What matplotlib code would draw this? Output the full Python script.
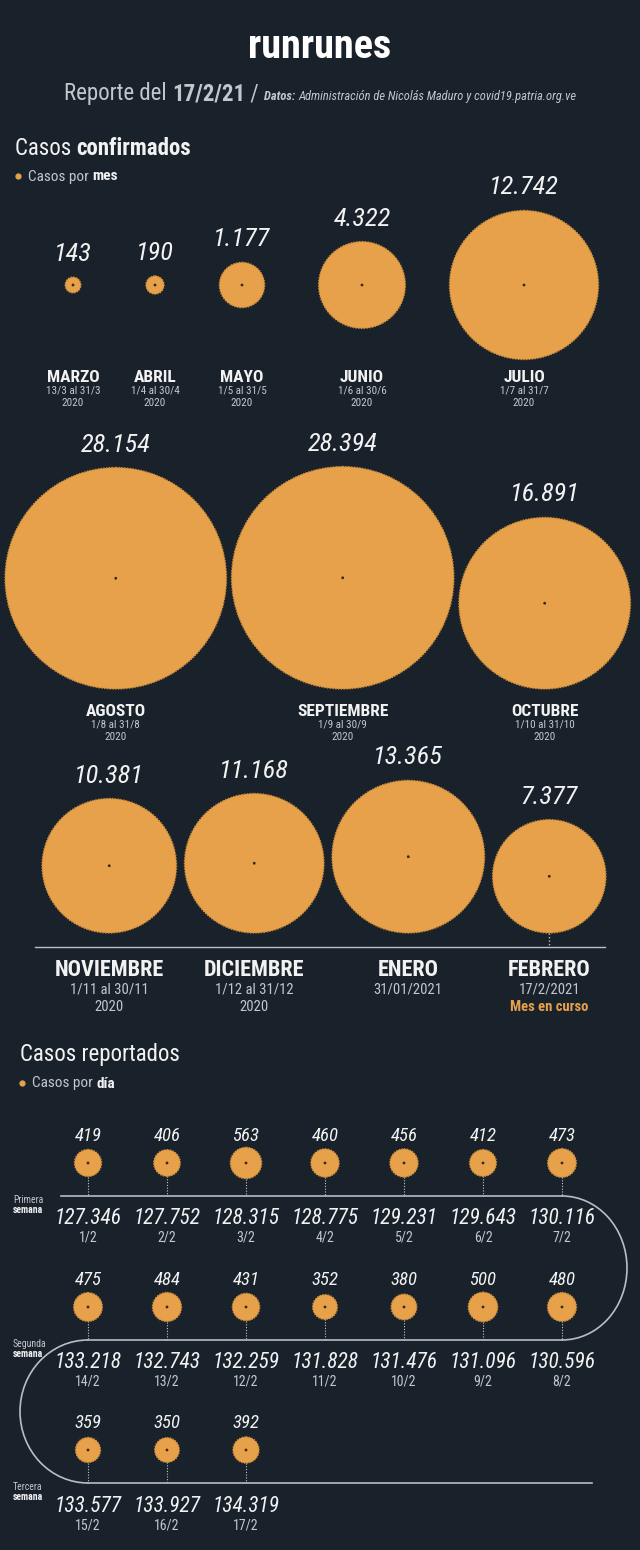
import matplotlib
matplotlib.use('Agg')
import matplotlib.pyplot as plt
from matplotlib import font_manager
from matplotlib.patches import Circle, Arc

# ---- datos: casos confirmados por mes ----
meses_1 = ['MARZO', 'ABRIL', 'MAYO', 'JUNIO', 'JULIO']
rangos_1 = ['13/3 al 31/3', '1/4 al 30/4', '1/5 al 31/5', '1/6 al 30/6', '1/7 al 31/7']
casos_1 = [143, 190, 1177, 4322, 12742]

meses_2 = ['AGOSTO', 'SEPTIEMBRE', 'OCTUBRE']
rangos_2 = ['1/8 al 31/8', '1/9 al 30/9', '1/10 al 31/10']
casos_2 = [28154, 28394, 16891]

meses_3 = ['NOVIEMBRE', 'DICIEMBRE', 'ENERO', 'FEBRERO']
rangos_3 = ['1/11 al 30/11', '1/12 al 31/12', '31/01/2021', '17/2/2021']
anios_3 = ['2020', '2020', '', 'Mes en curso']
casos_3 = [10381, 11168, 13365, 7377]

# ---- datos: casos reportados por dia (febrero) ----
semanas = ['Primera', 'Segunda', 'Tercera']
dias_1 = ['1/2', '2/2', '3/2', '4/2', '5/2', '6/2', '7/2']
diarios_1 = [419, 406, 563, 460, 456, 412, 473]
acum_1 = [127346, 127752, 128315, 128775, 129231, 129643, 130116]
dias_2 = ['14/2', '13/2', '12/2', '11/2', '10/2', '9/2', '8/2']
diarios_2 = [475, 484, 431, 352, 380, 500, 480]
acum_2 = [133218, 132743, 132259, 131828, 131476, 131096, 130596]
dias_3 = ['15/2', '16/2', '17/2']
diarios_3 = [359, 350, 392]
acum_3 = [133577, 133927, 134319]

# estilos
BG = '#19222b'
NAR = '#e6a14a'
BLANCO = '#f2f2f2'
GRIS = '#c3c7cc'
LINEA = '#b9bec4'
K = 0.66  # radio = K * sqrt(casos)

nombres = {f.name for f in font_manager.fontManager.ttflist}
COND = 'Roboto Condensed' if 'Roboto Condensed' in nombres else 'Roboto'
plt.rcParams['font.family'] = [COND, 'DejaVu Sans']


def fmt(v):
    return f'{v:,}'.replace(',', '.')


def radio(v):
    return K * v ** 0.5


fig = plt.figure(figsize=(6.4, 15.5), dpi=100, facecolor=BG)
ax = fig.add_axes([0, 0, 1, 1])
ax.set_xlim(0, 640)
ax.set_ylim(1550, 0)
ax.axis('off')
ax.set_facecolor(BG)
rend = fig.canvas.get_renderer()


def rich(x, y, partes, ha='left'):
    arts = []
    cx = x
    for s, kw in partes:
        t = ax.text(cx, y, s, va='baseline', ha='left', **kw)
        cx += t.get_window_extent(rend).width
        arts.append(t)
    if ha == 'center':
        d = (cx - x) / 2
        for t in arts:
            t.set_x(t.get_position()[0] - d)


def burbuja(x, y, r):
    ax.add_patch(Circle((x, y), r, facecolor=NAR, edgecolor='#c98a3a',
                        lw=1.0, ls=(0, (1, 1)), zorder=3))
    ax.add_patch(Circle((x, y), 0.7, color='#3a2a15', zorder=4))


# ---- cabecera ----
ax.text(320, 47, 'runrunes', ha='center', va='center', color='white',
        fontsize=29, fontweight='bold')
rich(320, 100, [
    ('Reporte del ', dict(color=GRIS, fontsize=16.5)),
    ('17/2/21', dict(color=GRIS, fontsize=16.5, fontweight='bold')),
    (' / ', dict(color=GRIS, fontsize=16.5)),
    ('Datos: ', dict(color=GRIS, fontsize=9, fontweight='bold', fontstyle='italic')),
    ('Administración de Nicolás Maduro y covid19.patria.org.ve',
     dict(color=GRIS, fontsize=9, fontstyle='italic')),
], ha='center')

rich(15, 155, [('Casos ', dict(color=BLANCO, fontsize=16.5)),
               ('confirmados', dict(color=BLANCO, fontsize=16.5, fontweight='bold'))])
ax.plot(18, 176, 'o', color=NAR, ms=3.5)
rich(28, 180.5, [('Casos por ', dict(color=GRIS, fontsize=11)),
                 ('mes', dict(color=BLANCO, fontsize=11, fontweight='bold'))])


def etiquetas(x, top, v, nombre, rango, anio, ynom, grande=False):
    ax.text(x, top - 23, fmt(v), ha='center', va='center', color=BLANCO,
            fontsize=19, fontstyle='italic')
    if grande:
        ax.text(x, ynom, nombre, ha='center', va='center', color=BLANCO,
                fontsize=16, fontweight='bold')
        ax.text(x, ynom + 20, rango, ha='center', va='center', color=GRIS, fontsize=10.5)
        if anio == 'Mes en curso':
            ax.text(x, ynom + 37, anio, ha='center', va='center', color=NAR,
                    fontsize=10.5, fontweight='bold')
        elif anio:
            ax.text(x, ynom + 37, anio, ha='center', va='center', color=GRIS, fontsize=10.5)
    else:
        ax.text(x, ynom, nombre, ha='center', va='center', color=BLANCO,
                fontsize=12.5, fontweight='bold')
        ax.text(x, ynom + 13.5, rango, ha='center', va='center', color=GRIS, fontsize=8)
        ax.text(x, ynom + 25.5, anio, ha='center', va='center', color=GRIS, fontsize=8)


# fila 1: centrada en y
x_fila1 = [73, 155, 242, 362, 524]
for x, v, n, rg in zip(x_fila1, casos_1, meses_1, rangos_1):
    r = radio(v)
    burbuja(x, 285, r)
    etiquetas(x, 285 - r, v, n, rg, '2020', 377)

# fila 2: apoyada en y=689, empaquetada
cx = 5
for v, n, rg in zip(casos_2, meses_2, rangos_2):
    r = radio(v)
    x = cx + r
    burbuja(x, 689 - r, r)
    etiquetas(x, 689 - 2 * r, v, n, rg, '2020', 711)
    cx = x + r + 5

# fila 3: apoyada en y=933
cx = 42
xs3 = []
for v, n, rg, an in zip(casos_3, meses_3, rangos_3, anios_3):
    r = radio(v)
    x = cx + r
    xs3.append(x)
    burbuja(x, 933 - r, r)
    etiquetas(x, 933 - 2 * r, v, n, rg, an, 970, grande=True)
    cx = x + r + 8
ax.plot([35, 605], [947, 947], color=LINEA, lw=1)
ax.plot([xs3[-1], xs3[-1]], [933, 947], color=LINEA, lw=1, ls=(0, (1, 1.5)))

# ---- casos reportados ----
ax.text(20, 1055, 'Casos reportados', ha='left', va='center', color=BLANCO, fontsize=16.5)
ax.plot(22, 1083, 'o', color=NAR, ms=3.5)
rich(32, 1087.5, [('Casos por ', dict(color=GRIS, fontsize=11)),
                  ('día', dict(color=BLANCO, fontsize=11, fontweight='bold'))])

filas = [(dias_1, diarios_1, acum_1, 1163, 1196),
         (dias_2, diarios_2, acum_2, 1307, 1340),
         (dias_3, diarios_3, acum_3, 1450, 1483)]
for sem, (dias, diarios, acum, yc, yl) in zip(semanas, filas):
    for i, (d, v, a) in enumerate(zip(dias, diarios, acum)):
        x = 88 + 79 * i
        r = radio(v)
        burbuja(x, yc, r)
        ax.text(x, yc - 27, fmt(v), ha='center', va='center', color=BLANCO,
                fontsize=13.5, fontstyle='italic')
        ax.plot([x, x], [yc + r, yl], color=GRIS, lw=0.8, ls=(0, (1, 1.5)), zorder=2)
        ax.text(x, yl + 23, fmt(a), ha='center', va='center', color=BLANCO,
                fontsize=15.5, fontstyle='italic')
        ax.text(x, yl + 42, d, ha='center', va='center', color=GRIS, fontsize=10)
    ax.text(13, yl + 4, sem, ha='left', va='center', color=GRIS, fontsize=7)
    ax.text(13, yl + 14, 'semana', ha='left', va='center', color=BLANCO,
            fontsize=7, fontweight='bold')

# recorrido en serpentina
ax.plot([61, 562], [1196, 1196], color=LINEA, lw=1.2)
ax.add_patch(Arc((562, 1268), 130, 144, theta1=-90, theta2=90, color=LINEA, lw=1.2))
ax.plot([88, 562], [1340, 1340], color=LINEA, lw=1.2)
ax.add_patch(Arc((88, 1411.5), 136, 143, theta1=90, theta2=270, color=LINEA, lw=1.2))
ax.plot([88, 592], [1483, 1483], color=LINEA, lw=1.2)

fig.savefig('out.png', dpi=100, facecolor=BG)
